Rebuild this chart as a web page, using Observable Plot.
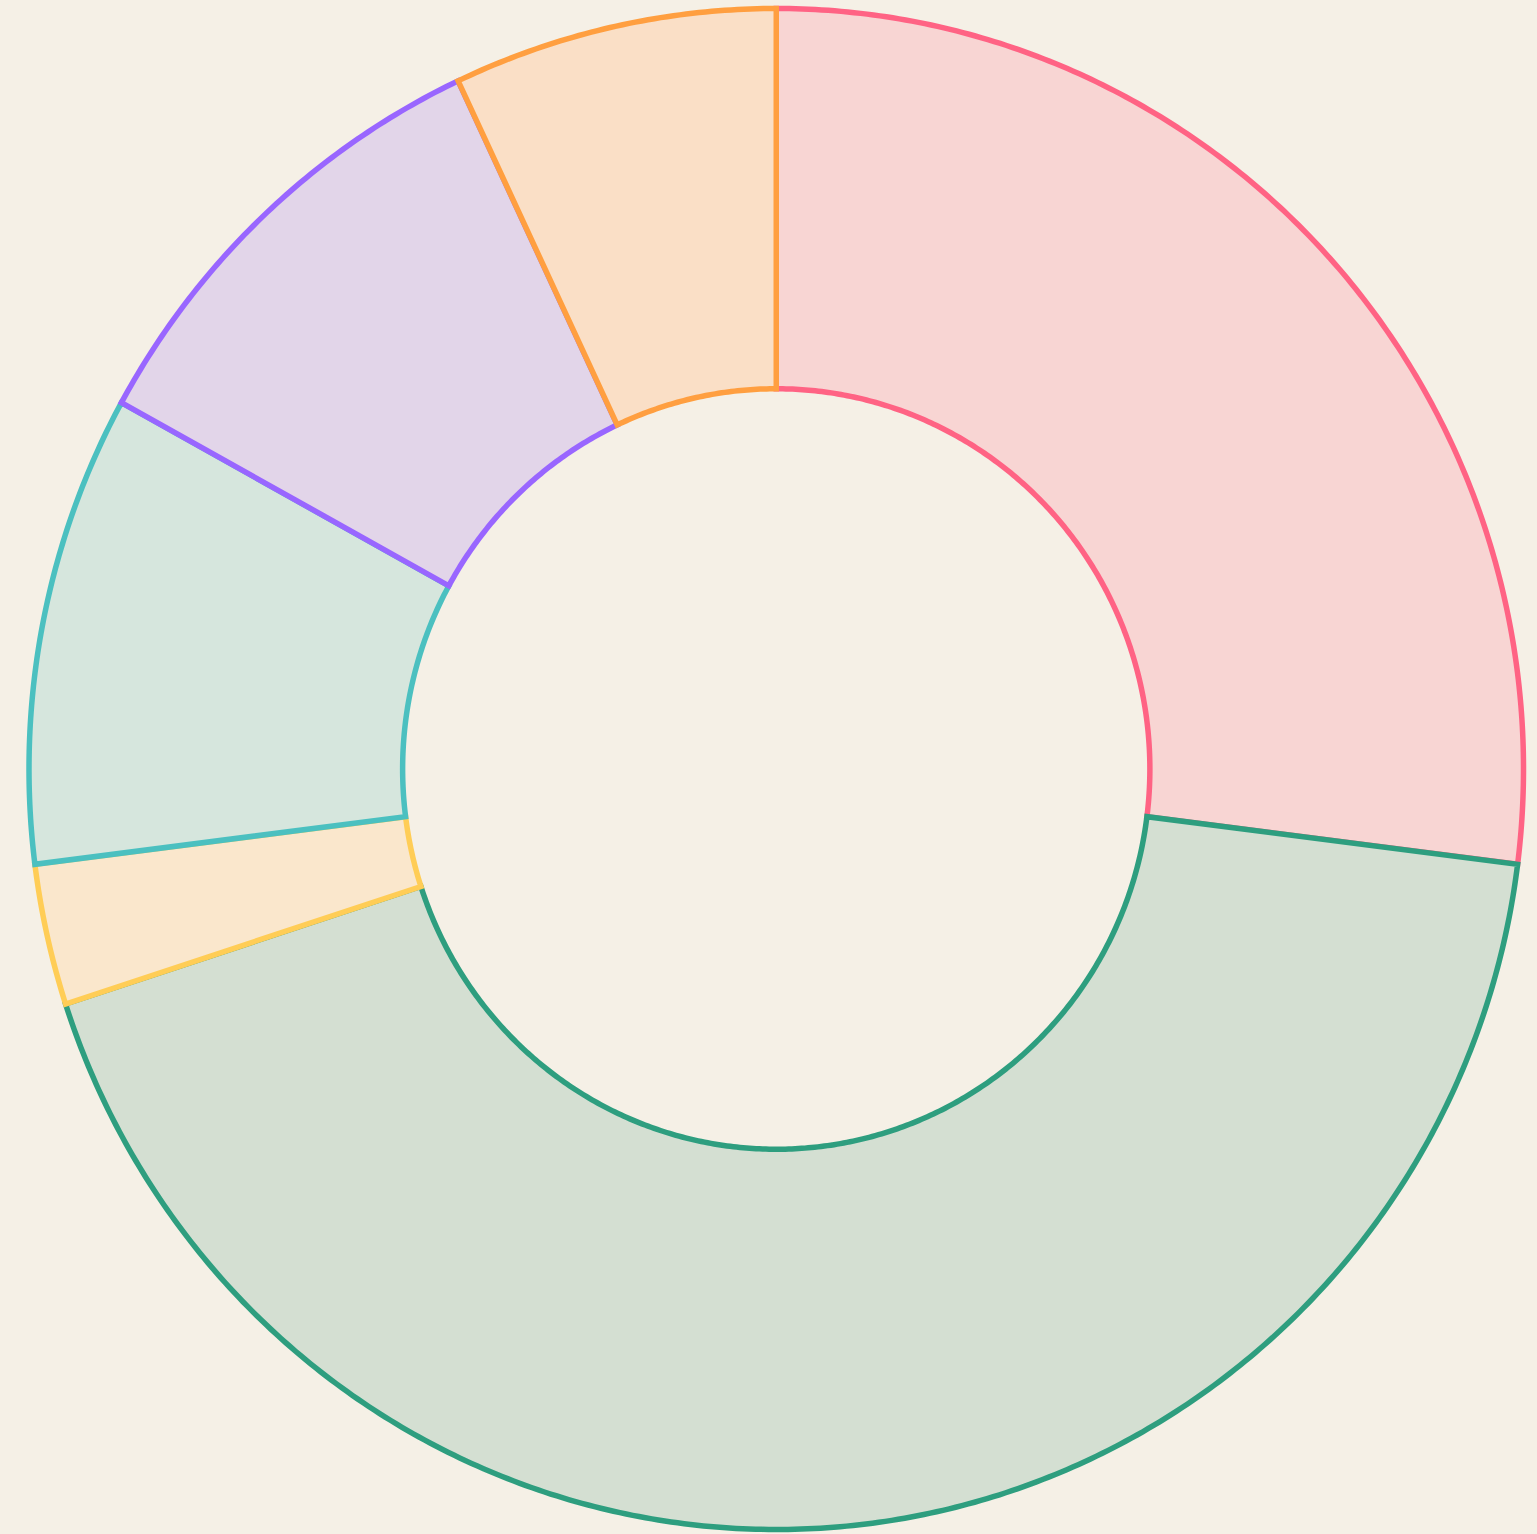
<!DOCTYPE html>
<html>
<head>
<meta charset="utf-8">
<script src="https://cdn.jsdelivr.net/npm/d3@7"></script>
<script src="https://cdn.jsdelivr.net/npm/@observablehq/plot@0.6"></script>
<style>
  html, body { margin: 0; padding: 0; background: #F5F0E6; }
  #chart svg { display: block; }
</style>
</head>
<body>
<div id="chart"></div>
<script>
// Slice data (clockwise from 12 o'clock)
const categories = ["A", "B", "C", "D", "E", "F"];
const values = [27, 43, 3, 10, 10, 7];
const strokeColors = ["#FF6384", "#2E9E7F", "#FFCD56", "#4BC0C0", "#9966FF", "#FF9F40"];
const fillColors = ["#F8D5D3", "#D4DFD2", "#FAE7CC", "#D6E6DD", "#E2D5E9", "#FADFC6"];

const innerRatio = 0.5;
const total = d3.sum(values);

// Build polygon outlines (sampled arcs) for each slice, in unit space
const rows = [];
let cum = 0;
categories.forEach((cat, i) => {
  const a0 = (cum / total) * 2 * Math.PI;
  cum += values[i];
  const a1 = (cum / total) * 2 * Math.PI;
  const n = Math.max(2, Math.ceil((a1 - a0) / (Math.PI / 360)));
  for (let k = 0; k <= n; k++) {
    const a = a0 + (a1 - a0) * k / n;
    rows.push({cat, x: Math.sin(a), y: Math.cos(a)});
  }
  for (let k = n; k >= 0; k--) {
    const a = a0 + (a1 - a0) * k / n;
    rows.push({cat, x: innerRatio * Math.sin(a), y: innerRatio * Math.cos(a)});
  }
});

const chart = Plot.plot({
  width: 1537,
  height: 1534,
  margin: 0,
  style: {background: "#F5F0E6", overflow: "visible"},
  x: {domain: [-1, 1], range: [28.5, 1523], axis: null},
  y: {domain: [-1, 1], range: [1529, 8], axis: null},
  marks: categories.map((cat, i) =>
    Plot.line(rows.filter(d => d.cat === cat), {
      x: "x", y: "y",
      fill: fillColors[i],
      stroke: strokeColors[i], strokeWidth: 5.5,
      strokeLinejoin: "miter", strokeMiterlimit: 4,
      curve: "linear-closed"
    })
  )
});
document.getElementById("chart").appendChild(chart);
</script>
</body>
</html>
